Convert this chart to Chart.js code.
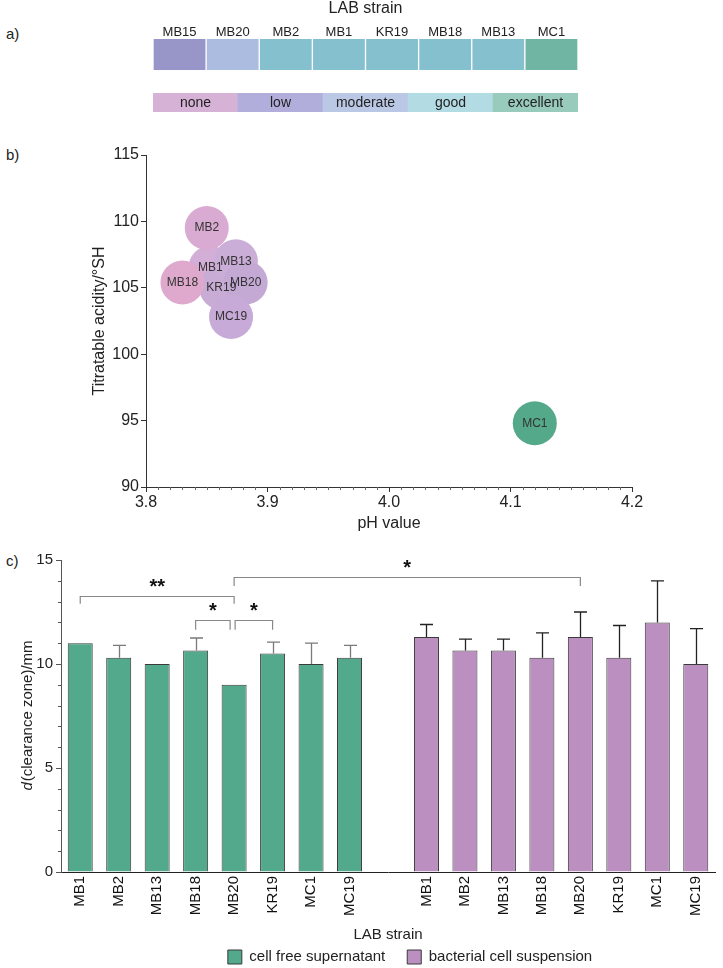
<!DOCTYPE html>
<html>
<head>
<meta charset="utf-8">
<script src="https://cdn.jsdelivr.net/npm/chart.js@4.4.1/dist/chart.umd.min.js"></script>
<style>
  body { margin: 0; background: #fff; font-family: "Liberation Sans", Arial, sans-serif; }
  #page { position: relative; width: 723px; height: 968px; overflow: hidden; }
  canvas { position: absolute; left: 0; }
  .tag { position: absolute; left: 6px; font-size: 15px; color: #222; }
</style>
</head>
<body>
<div id="page">
  <div class="tag" style="top:25px">a)</div>
  <div class="tag" style="top:146px">b)</div>
  <div class="tag" style="top:552px">c)</div>
  <canvas id="stripChart" width="723" height="72" style="top:0"></canvas>
  <canvas id="scaleChart" width="723" height="24" style="top:90px"></canvas>
  <canvas id="phChart" width="723" height="410" style="top:130px"></canvas>
  <canvas id="zoneChart" width="723" height="440" style="top:540px"></canvas>
</div>
<script>
const FONT = '"Liberation Sans", Arial, sans-serif';

// a) strain strip + rating scale
const stripStrains = ['MB15', 'MB20', 'MB2', 'MB1', 'KR19', 'MB18', 'MB13', 'MC1'];
const stripColors = ['#9896c8', '#acbbe0', '#85c0cf', '#85c0cf', '#85c0cf', '#85c0cf', '#85c0cf', '#70b5a3'];
const ratingLabels = ['none', 'low', 'moderate', 'good', 'excellent'];
const ratingColors = ['#d5b2d6', '#b1aedb', '#bac8e6', '#b3dbe3', '#99cbbc'];

// b) pH vs titratable acidity (draw order: back to front)
const phStrains = ['MB1', 'KR19', 'MB13', 'MB20', 'MC19', 'MB2', 'MB18', 'MC1'];
const phValues = [3.853, 3.862, 3.874, 3.882, 3.870, 3.850, 3.830, 4.120];
const acidityValues = [106.5, 105.0, 107.0, 105.4, 102.8, 109.5, 105.4, 94.8];
const phColors = ['#d3aed6', '#c9acd6', '#cbaed8', '#c4a9d5', '#c7aad7', '#d9abd2', '#dfa8cd', '#55a98b'];

// c) clearance zone
const zoneStrains = ['MB1', 'MB2', 'MB13', 'MB18', 'MB20', 'KR19', 'MC1', 'MC19'];
const cfsMeans = [11.0, 10.3, 10.0, 10.65, 9.0, 10.5, 10.0, 10.3];
const cfsErrors = [0, 0.6, 0, 0.6, 0, 0.55, 1.0, 0.6];
const bcsMeans = [11.3, 10.65, 10.65, 10.3, 11.3, 10.3, 12.0, 10.0];
const bcsErrors = [0.6, 0.55, 0.55, 1.2, 1.2, 1.55, 2.0, 1.7];

Chart.defaults.font.family = FONT;
Chart.defaults.color = '#222';
Chart.defaults.animation = false;
Chart.defaults.events = [];
Chart.defaults.plugins.tooltip.enabled = false;

// ---------- a) ----------
new Chart(document.getElementById('stripChart'), {
    type: 'bar',
    data: {
        labels: stripStrains,
        datasets: [{
            data: stripStrains.map(() => 1),
            backgroundColor: stripColors,
            borderColor: '#fff',
            borderWidth: { left: 1, right: 1, top: 0, bottom: 0 },
            borderSkipped: false,
            barPercentage: 1,
            categoryPercentage: 1
        }]
    },
    options: {
        responsive: false,
        layout: { padding: { left: 153, right: 145, top: 0, bottom: 2 } },
        plugins: { legend: { display: false } },
        scales: {
            x: {
                position: 'top',
                afterFit: s => { s.height = 39; },
                grid: { display: false, drawTicks: false },
                border: { display: false },
                ticks: { font: { size: 13 }, padding: -1, color: '#222' },
                title: { display: true, text: 'LAB strain', font: { size: 16, lineHeight: 1 }, padding: { top: 1, bottom: 2 }, color: '#222' }
            },
            y: { display: false, min: 0, max: 1 }
        }
    }
});

// names written inside each rating cell
const cellLabels = {
    id: 'cellLabels',
    afterDatasetsDraw(chart) {
        const ctx = chart.ctx;
        ctx.save();
        ctx.font = '14px ' + FONT;
        ctx.fillStyle = '#222';
        ctx.textAlign = 'center';
        ctx.textBaseline = 'middle';
        chart.getDatasetMeta(0).data.forEach((bar, i) => {
            ctx.fillText(ratingLabels[i], bar.x, (bar.y + bar.base) / 2 + 1);
        });
        ctx.restore();
    }
};

new Chart(document.getElementById('scaleChart'), {
    type: 'bar',
    data: {
        labels: ratingLabels,
        datasets: [{
            data: ratingLabels.map(() => 1),
            backgroundColor: ratingColors,
            borderWidth: 0,
            barPercentage: 1,
            categoryPercentage: 1
        }]
    },
    options: {
        responsive: false,
        layout: { padding: { left: 153, right: 145, top: 3, bottom: 2 } },
        plugins: { legend: { display: false } },
        scales: {
            x: { display: false },
            y: { display: false, min: 0, max: 1 }
        }
    },
    plugins: [cellLabels]
});

// ---------- b) ----------
const bubbleLabels = {
    id: 'bubbleLabels',
    afterDatasetsDraw(chart) {
        const ctx = chart.ctx;
        ctx.save();
        ctx.font = '12px ' + FONT;
        ctx.fillStyle = '#333';
        ctx.textAlign = 'center';
        ctx.textBaseline = 'middle';
        chart.getDatasetMeta(0).data.forEach((pt, i) => ctx.fillText(phStrains[i], pt.x, pt.y));
        ctx.restore();
    }
};

const phMinorTicks = {
    id: 'phMinorTicks',
    afterDraw(chart) {
        const ctx = chart.ctx;
        const xs = chart.scales.x;
        const y0 = chart.chartArea.bottom;
        ctx.save();
        ctx.strokeStyle = '#666';
        ctx.lineWidth = 1;
        for (let k = 381; k < 420; k++) {
            if (k % 10 === 0) continue;
            const px = Math.round(xs.getPixelForValue(k / 100)) + 0.5;
            ctx.beginPath();
            ctx.moveTo(px, y0);
            ctx.lineTo(px, y0 + 3);
            ctx.stroke();
        }
        ctx.restore();
    }
};

new Chart(document.getElementById('phChart'), {
    type: 'scatter',
    data: {
        datasets: [{
            data: phStrains.map((s, i) => ({ x: phValues[i], y: acidityValues[i] })),
            backgroundColor: phColors,
            borderWidth: 0,
            pointRadius: 22
        }]
    },
    options: {
        responsive: false,
        layout: { padding: { left: 0, right: 91, top: 25, bottom: 0 } },
        plugins: { legend: { display: false } },
        scales: {
            x: {
                type: 'linear', min: 3.8, max: 4.2,
                afterFit: s => { s.height = 53; },
                ticks: { stepSize: 0.1, callback: v => v.toFixed(1), font: { size: 16 }, padding: 1, color: '#222' },
                grid: { drawOnChartArea: false, tickLength: 5, color: '#333' },
                border: { color: '#333' },
                title: { display: true, text: 'pH value', font: { size: 16 }, padding: { top: 0, bottom: 7 }, color: '#222' }
            },
            y: {
                min: 90, max: 115,
                afterFit: s => { s.width = 146; },
                ticks: { stepSize: 5, font: { size: 16 }, padding: 2, color: '#222' },
                grid: { drawOnChartArea: false, tickLength: 5, color: '#333' },
                border: { color: '#333' },
                title: { display: true, text: 'Titratable acidity/°SH', font: { size: 16 }, padding: { top: 90, bottom: 0 }, color: '#222' }
            }
        }
    },
    plugins: [bubbleLabels, phMinorTicks]
});

// ---------- c) ----------
const zoneLabels = [...zoneStrains, '', ...zoneStrains];
const emptyGroup = zoneStrains.map(() => null);
const cfsData = [...cfsMeans, null, ...emptyGroup];
const bcsData = [...emptyGroup, null, ...bcsMeans];

// significance brackets: indices into zoneLabels, heights in mm
const sigBrackets = [
    { from: 0, to: 4, level: 13.25, drop: 0.35, text: '**', dx1: 0, dx2: 0 },
    { from: 4, to: 13, level: 14.2, drop: 0.45, text: '*', dx1: 0, dx2: 0 },
    { from: 3, to: 4, level: 12.1, drop: 0.45, text: '*', dx1: 0, dx2: -4 },
    { from: 4, to: 5, level: 12.1, drop: 0.45, text: '*', dx1: 1, dx2: 0 }
];

const errorBars = {
    id: 'errorBars',
    afterDatasetsDraw(chart) {
        const ctx = chart.ctx;
        const ys = chart.scales.y;
        chart.data.datasets.forEach((ds, di) => {
            const meta = chart.getDatasetMeta(di);
            ctx.save();
            ctx.strokeStyle = ds.errorColor;
            ctx.lineWidth = 1.3;
            ds.data.forEach((v, i) => {
                const err = ds.errors[i];
                if (v === null || !err) return;
                const bar = meta.data[i];
                const x = Math.round(bar.x) + 0.5;
                const yTop = ys.getPixelForValue(v + err);
                ctx.beginPath();
                ctx.moveTo(x, bar.y);
                ctx.lineTo(x, yTop);
                ctx.moveTo(x - 6.5, yTop);
                ctx.lineTo(x + 6.5, yTop);
                ctx.stroke();
            });
            ctx.restore();
        });
    }
};

const brackets = {
    id: 'brackets',
    afterDatasetsDraw(chart) {
        const ctx = chart.ctx;
        const xs = chart.scales.x;
        const ys = chart.scales.y;
        ctx.save();
        ctx.strokeStyle = '#888';
        ctx.lineWidth = 1.2;
        ctx.fillStyle = '#111';
        ctx.textAlign = 'center';
        ctx.textBaseline = 'alphabetic';
        ctx.font = 'bold 20px ' + FONT;
        sigBrackets.forEach(b => {
            const x1 = xs.getPixelForValue(b.from) + b.dx1;
            const x2 = xs.getPixelForValue(b.to) + b.dx2;
            const y = Math.round(ys.getPixelForValue(b.level)) + 0.5;
            const yd = ys.getPixelForValue(b.level - b.drop);
            ctx.beginPath();
            ctx.moveTo(x1, yd);
            ctx.lineTo(x1, y);
            ctx.lineTo(x2, y);
            ctx.lineTo(x2, yd);
            ctx.stroke();
            ctx.fillText(b.text, (x1 + x2) / 2, y - 4);
        });
        ctx.restore();
    }
};

const zoneMinorTicks = {
    id: 'zoneMinorTicks',
    afterDraw(chart) {
        const ctx = chart.ctx;
        const ys = chart.scales.y;
        const x0 = chart.chartArea.left;
        ctx.save();
        ctx.strokeStyle = '#555';
        ctx.lineWidth = 1;
        for (let v = 1; v < 15; v++) {
            if (v % 5 === 0) continue;
            const py = Math.round(ys.getPixelForValue(v)) + 0.5;
            ctx.beginPath();
            ctx.moveTo(x0, py);
            ctx.lineTo(x0 - 3, py);
            ctx.stroke();
        }
        ctx.restore();
    }
};

const zoneYTitle = {
    id: 'zoneYTitle',
    afterDraw(chart) {
        const ctx = chart.ctx;
        const area = chart.chartArea;
        const italic = 'italic 15px ' + FONT;
        const plain = '15px ' + FONT;
        const rest = '(clearance zone)/mm';
        ctx.save();
        ctx.translate(28, (area.top + area.bottom) / 2);
        ctx.rotate(-Math.PI / 2);
        ctx.fillStyle = '#222';
        ctx.textBaseline = 'middle';
        ctx.textAlign = 'left';
        ctx.font = italic;
        const w1 = ctx.measureText('d').width;
        ctx.font = plain;
        const w2 = ctx.measureText(rest).width;
        const x = -(w1 + w2) / 2;
        ctx.font = italic;
        ctx.fillText('d', x, 0);
        ctx.font = plain;
        ctx.fillText(rest, x + w1 + 1, 0);
        ctx.restore();
    }
};

// the legend sits a little right of the axis centre
const legendShift = {
    id: 'legendShift',
    afterLayout(chart) {
        chart.legend.left += 44;
    }
};

new Chart(document.getElementById('zoneChart'), {
    type: 'bar',
    data: {
        labels: zoneLabels,
        datasets: [{
            label: 'cell free supernatant',
            data: cfsData,
            errors: [...cfsErrors, 0, ...emptyGroup.map(() => 0)],
            errorColor: '#7a7a7a',
            backgroundColor: '#53a98c',
            borderColor: '#3a3a3a',
            borderWidth: 1,
            grouped: false,
            barPercentage: 0.65,
            categoryPercentage: 1
        }, {
            label: 'bacterial cell suspension',
            data: bcsData,
            errors: [...emptyGroup.map(() => 0), 0, ...bcsErrors],
            errorColor: '#222',
            backgroundColor: '#bb8fc0',
            borderColor: '#3a3a3a',
            borderWidth: 1,
            grouped: false,
            barPercentage: 0.65,
            categoryPercentage: 1
        }]
    },
    options: {
        responsive: false,
        layout: { padding: { left: 0, right: 8, top: 20, bottom: 5.5 } },
        plugins: {
            legend: {
                position: 'bottom',
                fullSize: false,
                labels: { boxWidth: 14, boxHeight: 14, padding: 22, font: { size: 15 }, color: '#222' }
            }
        },
        scales: {
            x: {
                afterFit: s => { s.height = 55.5; },
                grid: { display: false, drawTicks: false },
                border: { color: '#222' },
                ticks: { autoSkip: false, minRotation: 90, maxRotation: 90, padding: 4, font: { size: 15 }, color: '#111' },
                title: { display: true, text: 'LAB strain', font: { size: 15 }, padding: { top: 0, bottom: -16.5 }, color: '#222' }
            },
            y: {
                min: 0, max: 15,
                afterFit: s => { s.width = 61; },
                ticks: { stepSize: 5, font: { size: 15 }, padding: 3, color: '#222' },
                grid: { drawOnChartArea: false, tickLength: 5, color: '#555' },
                border: { color: '#555' }
            }
        }
    },
    plugins: [errorBars, brackets, zoneMinorTicks, zoneYTitle, legendShift]
});
</script>
</body>
</html>
